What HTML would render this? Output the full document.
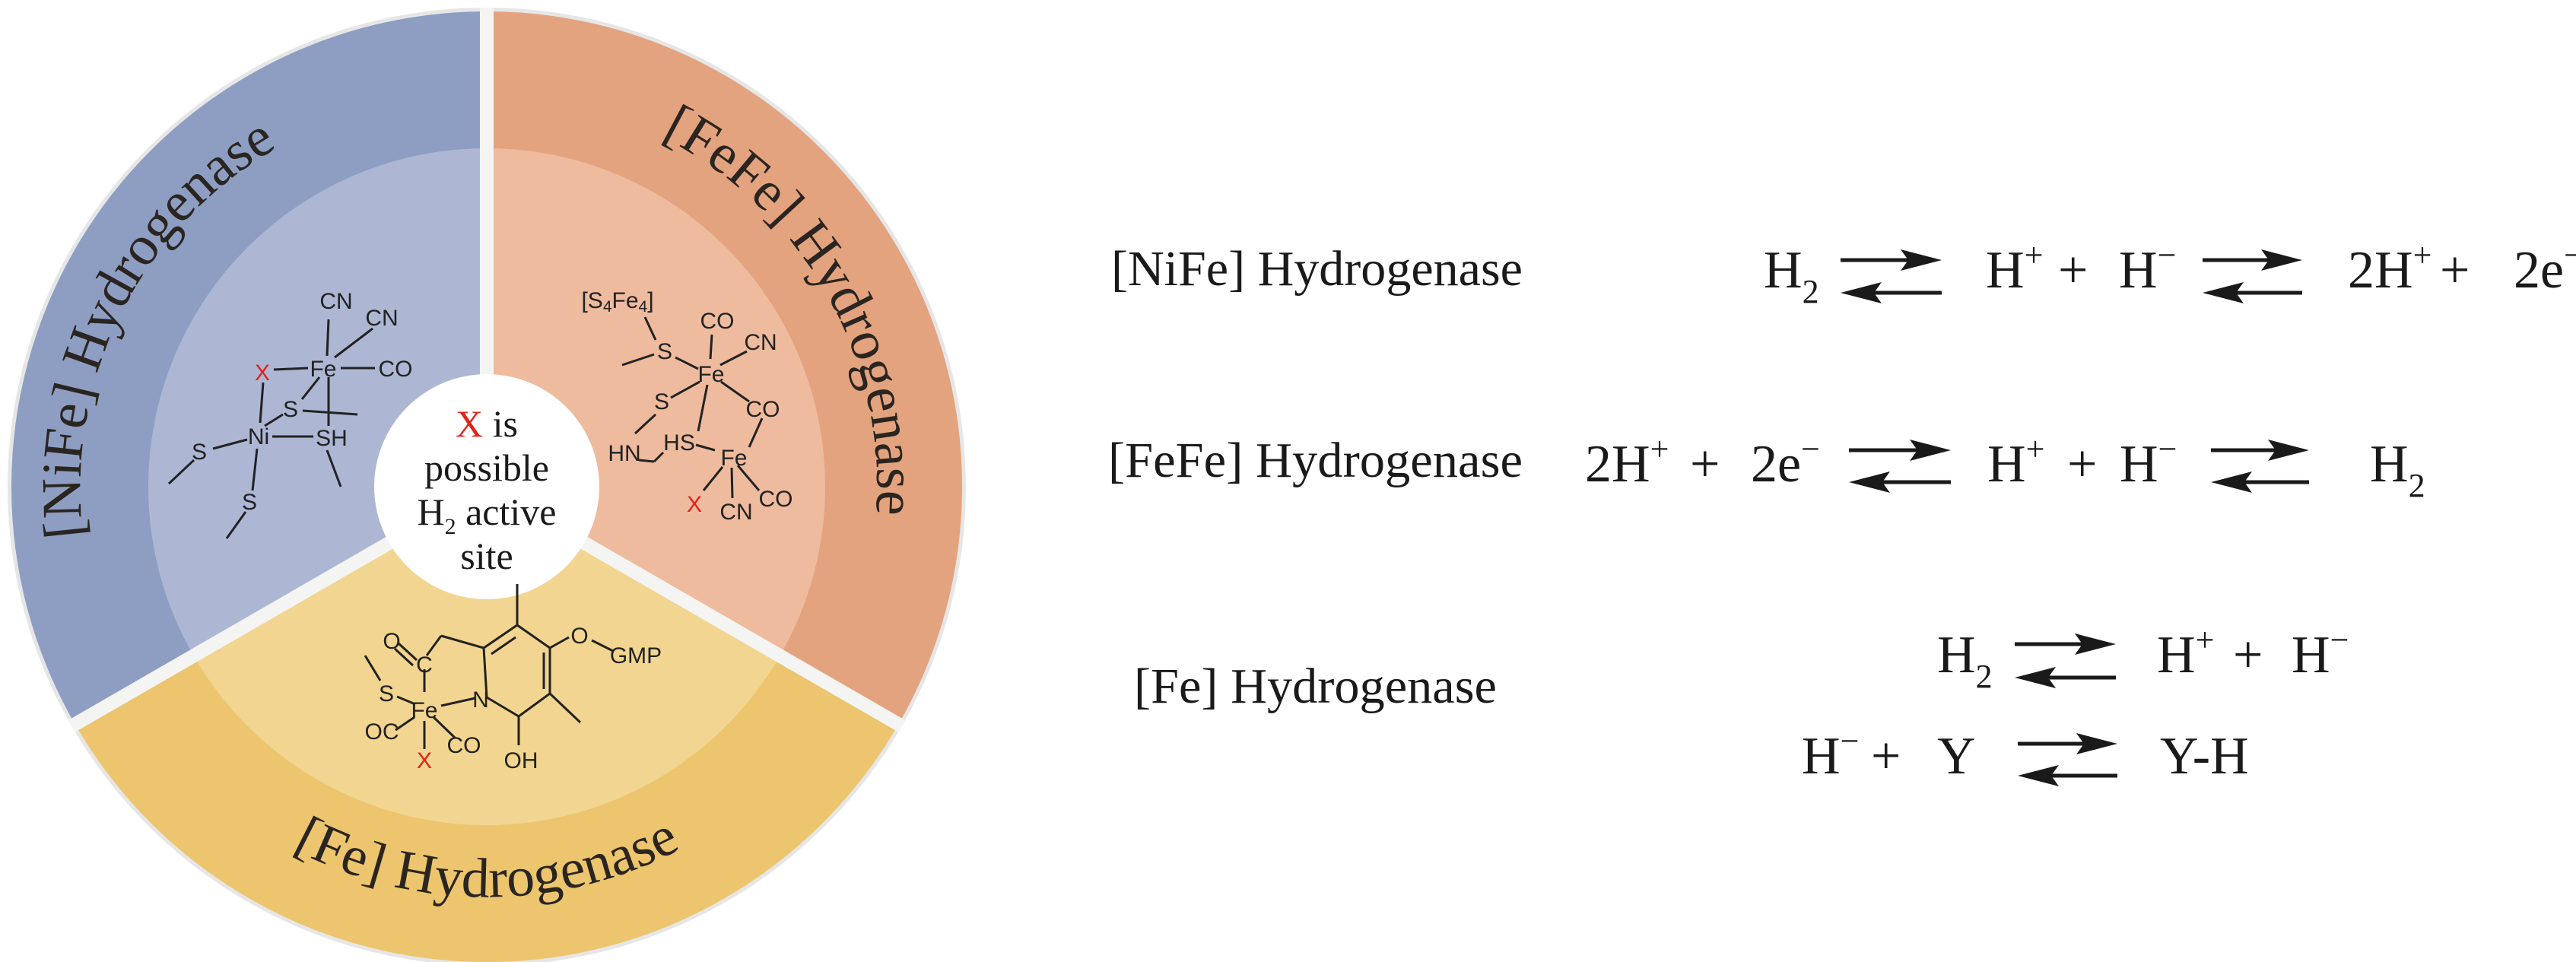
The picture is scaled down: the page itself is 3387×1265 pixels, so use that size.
<!DOCTYPE html>
<html><head><meta charset="utf-8"><style>
html,body{margin:0;padding:0;background:#fff;}
svg{display:block;}
.sf{font-family:"Liberation Serif",serif;}
.ss{font-family:"Liberation Sans",sans-serif;}
</style></head><body>
<svg width="3387" height="1265" viewBox="0 0 3387 1265" xmlns="http://www.w3.org/2000/svg">
<defs>
<path id="pNi" d="M199.5,937.5 A515,515 0 0 1 604.1,126.3"/>
<path id="pFeFe" d="M644.5,125 A515,515 0 0 1 1084,898"/>
<path id="pFe" d="M168,907 A545,545 0 0 0 1112,907"/>
</defs>
<circle cx="640" cy="640" r="630" fill="#e6e6e6"/>
<path d="M640,640 L98.7,952.5 A625,625 0 0 1 640,15 Z" fill="#8e9ec3"/>
<path d="M640,640 L640,15 A625,625 0 0 1 1181.3,952.5 Z" fill="#e3a37e"/>
<path d="M640,640 L1181.3,952.5 A625,625 0 0 1 98.7,952.5 Z" fill="#ecc56e"/>
<path d="M640,640 L254.6,862.5 A445,445 0 0 1 640,195 Z" fill="#adb7d4"/>
<path d="M640,640 L640,195 A445,445 0 0 1 1025.4,862.5 Z" fill="#eebb9e"/>
<path d="M640,640 L1025.4,862.5 A445,445 0 0 1 254.6,862.5 Z" fill="#f2d590"/>
<g stroke="#f4f4f2" stroke-width="18">
<line x1="640" y1="640" x2="640" y2="10"/>
<line x1="640" y1="640" x2="94" y2="955"/>
<line x1="640" y1="640" x2="1186" y2="955"/>
</g>
<circle cx="640" cy="640" r="148" fill="#fff"/>
<g class="sf" font-size="74" fill="#2a2520">
<text><textPath href="#pNi" startOffset="50%" text-anchor="middle">[NiFe] Hydrogenase</textPath></text>
<text><textPath href="#pFeFe" startOffset="50%" text-anchor="middle">[FeFe] Hydrogenase</textPath></text>
<text><textPath href="#pFe" startOffset="50%" text-anchor="middle">[Fe] Hydrogenase</textPath></text>
</g>
<g class="sf" font-size="50" fill="#1a1a1a" text-anchor="middle">
<text x="640" y="574"><tspan fill="#e0231c">X</tspan> is</text>
<text x="640" y="632">possible</text>
<text x="640" y="690">H<tspan font-size="30" dy="12">2</tspan><tspan dy="-12"> active</tspan></text>
<text x="640" y="748">site</text>
</g>
<!-- NiFe structure -->
<g stroke="#222" stroke-width="3" fill="none">
<line x1="430" y1="468" x2="432" y2="420"/>
<line x1="440" y1="470" x2="490" y2="432"/>
<line x1="448" y1="484" x2="493" y2="484"/>
<line x1="360" y1="486" x2="405" y2="484"/>
<line x1="346" y1="503" x2="342" y2="556"/>
<line x1="420" y1="496" x2="397" y2="525"/>
<line x1="432" y1="496" x2="432" y2="560"/>
<line x1="398" y1="540" x2="470" y2="545"/>
<line x1="358" y1="574" x2="412" y2="574"/>
<line x1="325" y1="578" x2="280" y2="590"/>
<line x1="255" y1="605" x2="222" y2="636"/>
<line x1="338" y1="590" x2="332" y2="645"/>
<line x1="323" y1="673" x2="298" y2="708"/>
<line x1="348" y1="560" x2="372" y2="545"/>
<line x1="430" y1="592" x2="448" y2="640"/>
</g>
<g class="ss" font-size="30" fill="#222" text-anchor="middle">
<text x="442" y="406">CN</text><text x="502" y="428">CN</text>
<text x="425" y="495">Fe</text><text x="520" y="495">CO</text>
<text x="345" y="500" fill="#e0231c">X</text>
<text x="382" y="548">S</text><text x="340" y="584">Ni</text>
<text x="436" y="586">SH</text><text x="262" y="604">S</text><text x="328" y="670">S</text>
</g>
<!-- FeFe structure -->
<g stroke="#222" stroke-width="3" fill="none">
<line x1="848" y1="417" x2="862" y2="447"/>
<line x1="860" y1="466" x2="818" y2="480"/>
<line x1="888" y1="470" x2="918" y2="485"/>
<line x1="934" y1="472" x2="936" y2="440"/>
<line x1="947" y1="480" x2="982" y2="462"/>
<line x1="920" y1="502" x2="882" y2="523"/>
<line x1="948" y1="502" x2="985" y2="528"/>
<line x1="930" y1="506" x2="918" y2="567"/>
<line x1="1002" y1="550" x2="985" y2="588"/>
<line x1="862" y1="545" x2="835" y2="570"/>
<line x1="840" y1="605" x2="860" y2="607"/>
<line x1="860" y1="607" x2="872" y2="595"/>
<line x1="915" y1="585" x2="940" y2="592"/>
<line x1="950" y1="614" x2="925" y2="645"/>
<line x1="962" y1="615" x2="963" y2="655"/>
<line x1="970" y1="612" x2="998" y2="645"/>
</g>
<g class="ss" font-size="30" fill="#222" text-anchor="middle">
<text x="812" y="405">[S<tspan font-size="21" dy="5">4</tspan><tspan dy="-5">Fe</tspan><tspan font-size="21" dy="5">4</tspan><tspan dy="-5">]</tspan></text>
<text x="943" y="432">CO</text><text x="1000" y="460">CN</text>
<text x="874" y="472">S</text><text x="935" y="502">Fe</text>
<text x="870" y="538">S</text><text x="1003" y="548">CO</text>
<text x="821" y="606">HN</text><text x="893" y="592">HS</text>
<text x="965" y="612">Fe</text>
<text x="913" y="673" fill="#e0231c">X</text>
<text x="968" y="683">CN</text><text x="1020" y="666">CO</text>
</g>
<!-- Fe structure -->
<g stroke="#222" stroke-width="3" fill="none">
<line x1="524" y1="846" x2="548" y2="868"/>
<line x1="519" y1="853" x2="543" y2="875"/>
<line x1="561" y1="862" x2="580" y2="836"/>
<line x1="580" y1="836" x2="636" y2="852"/>
<polygon points="636,852 680,822 723,852 723,912 682,942 640,917" />
<line x1="646" y1="860" x2="678" y2="838"/>
<line x1="715" y1="858" x2="715" y2="906"/>
<line x1="680" y1="822" x2="680" y2="768"/>
<line x1="723" y1="852" x2="748" y2="838"/>
<line x1="778" y1="842" x2="806" y2="856"/>
<line x1="723" y1="912" x2="763" y2="950"/>
<line x1="682" y1="942" x2="682" y2="980"/>
<line x1="625" y1="918" x2="580" y2="928"/>
<line x1="558" y1="910" x2="558" y2="880"/>
<line x1="522" y1="916" x2="546" y2="926"/>
<line x1="500" y1="895" x2="480" y2="862"/>
<line x1="545" y1="943" x2="520" y2="960"/>
<line x1="570" y1="943" x2="598" y2="970"/>
<line x1="558" y1="948" x2="558" y2="985"/>
</g>
<g class="ss" font-size="30" fill="#222" text-anchor="middle">
<text x="515" y="853">O</text><text x="558" y="884">C</text>
<text x="508" y="922">S</text><text x="558" y="944">Fe</text>
<text x="632" y="930">N</text><text x="502" y="972">OC</text>
<text x="610" y="990">CO</text><text x="558" y="1010" fill="#e0231c">X</text>
<text x="685" y="1010">OH</text><text x="762" y="846">O</text>
<text x="836" y="872">GMP</text>
</g>
<!-- right side -->
<g class="sf" font-size="66" fill="#1a1a1a">
<text x="1461" y="375" textLength="541" lengthAdjust="spacingAndGlyphs">[NiFe] Hydrogenase</text>
<text x="1457" y="627" textLength="545" lengthAdjust="spacingAndGlyphs">[FeFe] Hydrogenase</text>
<text x="1491" y="924" textLength="477" lengthAdjust="spacingAndGlyphs">[Fe] Hydrogenase</text>
</g>
<g class="sf" font-size="70" fill="#1a1a1a">
<text x="2319" y="378">H<tspan font-size="44" dy="20">2</tspan></text>
<text x="2611" y="378">H<tspan font-size="44" dy="-28">+</tspan></text>
<text x="2706" y="378">+</text>
<text x="2786" y="378">H<tspan font-size="44" dy="-28">−</tspan></text>
<text x="3087" y="378">2H<tspan font-size="44" dy="-28">+</tspan></text>
<text x="3208" y="378">+</text>
<text x="3305" y="378">2e<tspan font-size="44" dy="-28">−</tspan></text>

<text x="2084" y="633">2H<tspan font-size="44" dy="-28">+</tspan></text>
<text x="2222" y="633">+</text>
<text x="2302" y="633">2e<tspan font-size="44" dy="-28">−</tspan></text>
<text x="2613" y="633">H<tspan font-size="44" dy="-28">+</tspan></text>
<text x="2718" y="633">+</text>
<text x="2787" y="633">H<tspan font-size="44" dy="-28">−</tspan></text>
<text x="3116" y="633">H<tspan font-size="44" dy="20">2</tspan></text>

<text x="2547" y="884">H<tspan font-size="44" dy="20">2</tspan></text>
<text x="2836" y="884">H<tspan font-size="44" dy="-28">+</tspan></text>
<text x="2936" y="884">+</text>
<text x="3013" y="884">H<tspan font-size="44" dy="-28">−</tspan></text>

<text x="2369" y="1017">H<tspan font-size="44" dy="-28">−</tspan></text>
<text x="2460" y="1017">+</text>
<text x="2547" y="1017">Y</text>
<text x="2840" y="1017">Y-H</text>
</g>
<g fill="#1a1a1a" stroke="#1a1a1a">
<g stroke-width="5">
<line x1="2420" y1="342" x2="2510" y2="342"/><line x1="2460" y1="385" x2="2553" y2="385"/>
<line x1="2896" y1="342" x2="2985" y2="342"/><line x1="2935" y1="385" x2="3027" y2="385"/>
<line x1="2431" y1="592" x2="2522" y2="592"/><line x1="2470" y1="634" x2="2565" y2="634"/>
<line x1="2907" y1="592" x2="2995" y2="592"/><line x1="2946" y1="634" x2="3036" y2="634"/>
<line x1="2649" y1="847" x2="2740" y2="847"/><line x1="2688" y1="891" x2="2782" y2="891"/>
<line x1="2653" y1="978" x2="2743" y2="978"/><line x1="2692" y1="1020" x2="2784" y2="1020"/>
</g>
<g stroke="none">
<polygon points="2553,342 2499,328 2509,342 2499,356"/><polygon points="2420,385 2474,371 2464,385 2474,399"/>
<polygon points="3027,342 2973,328 2983,342 2973,356"/><polygon points="2896,385 2950,371 2940,385 2950,399"/>
<polygon points="2565,592 2511,578 2521,592 2511,606"/><polygon points="2431,634 2485,620 2475,634 2485,648"/>
<polygon points="3036,592 2982,578 2992,592 2982,606"/><polygon points="2907,634 2961,620 2951,634 2961,648"/>
<polygon points="2782,847 2728,833 2738,847 2728,861"/><polygon points="2649,891 2703,877 2693,891 2703,905"/>
<polygon points="2784,978 2730,964 2740,978 2730,992"/><polygon points="2653,1020 2707,1006 2697,1020 2707,1034"/>
</g>
</g>
</svg>
</body></html>
